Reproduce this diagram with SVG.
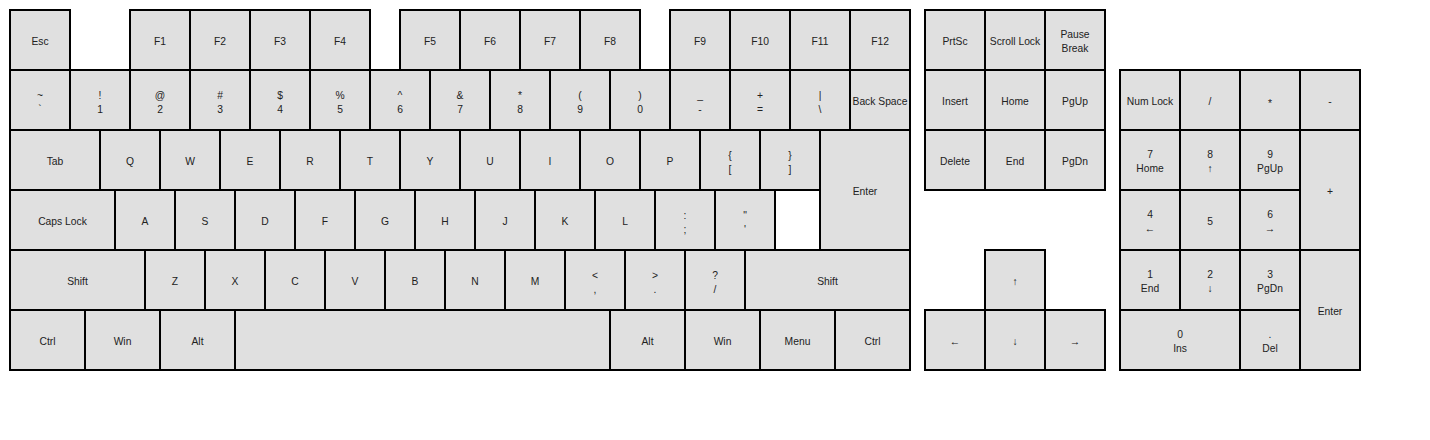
<svg xmlns="http://www.w3.org/2000/svg" width="1430" height="440" viewBox="0 0 1430 440">
<style>
.k{fill:#e0e0e0;stroke:#000;stroke-width:2}
.w{fill:#fff;stroke:#000;stroke-width:2}
text{font-family:"Liberation Sans",Arial,sans-serif;font-size:10.3px;fill:#222;text-anchor:middle}
</style>
<rect width="1430" height="440" fill="#fff"/>
<g id="row1">
<g id="k-esc"><rect class="k" x="10" y="10" width="60" height="60"/><text x="40" y="45">Esc</text></g>
<g id="k-f1"><rect class="k" x="130" y="10" width="60" height="60"/><text x="160" y="45">F1</text></g>
<g id="k-f2"><rect class="k" x="190" y="10" width="60" height="60"/><text x="220" y="45">F2</text></g>
<g id="k-f3"><rect class="k" x="250" y="10" width="60" height="60"/><text x="280" y="45">F3</text></g>
<g id="k-f4"><rect class="k" x="310" y="10" width="60" height="60"/><text x="340" y="45">F4</text></g>
<g id="k-f5"><rect class="k" x="400" y="10" width="60" height="60"/><text x="430" y="45">F5</text></g>
<g id="k-f6"><rect class="k" x="460" y="10" width="60" height="60"/><text x="490" y="45">F6</text></g>
<g id="k-f7"><rect class="k" x="520" y="10" width="60" height="60"/><text x="550" y="45">F7</text></g>
<g id="k-f8"><rect class="k" x="580" y="10" width="60" height="60"/><text x="610" y="45">F8</text></g>
<g id="k-f9"><rect class="k" x="670" y="10" width="60" height="60"/><text x="700" y="45">F9</text></g>
<g id="k-f10"><rect class="k" x="730" y="10" width="60" height="60"/><text x="760" y="45">F10</text></g>
<g id="k-f11"><rect class="k" x="790" y="10" width="60" height="60"/><text x="820" y="45">F11</text></g>
<g id="k-f12"><rect class="k" x="850" y="10" width="60" height="60"/><text x="880" y="45">F12</text></g>
<g id="k-prtsc"><rect class="k" x="925" y="10" width="60" height="60"/><text x="955" y="45">PrtSc</text></g>
<g id="k-scroll"><rect class="k" x="985" y="10" width="60" height="60"/><text x="1015" y="45">Scroll Lock</text></g>
<g id="k-pause"><rect class="k" x="1045" y="10" width="60" height="60"/><text x="1075" y="38">Pause</text><text x="1075" y="52">Break</text></g>
</g>
<g id="row2">
<g id="k-tilde"><rect class="k" x="10" y="70" width="60" height="60"/><text x="40" y="99">~</text><text x="40" y="113">`</text></g>
<g id="k-1"><rect class="k" x="70" y="70" width="60" height="60"/><text x="100" y="99">!</text><text x="100" y="113">1</text></g>
<g id="k-2"><rect class="k" x="130" y="70" width="60" height="60"/><text x="160" y="99">@</text><text x="160" y="113">2</text></g>
<g id="k-3"><rect class="k" x="190" y="70" width="60" height="60"/><text x="220" y="99">#</text><text x="220" y="113">3</text></g>
<g id="k-4"><rect class="k" x="250" y="70" width="60" height="60"/><text x="280" y="99">$</text><text x="280" y="113">4</text></g>
<g id="k-5"><rect class="k" x="310" y="70" width="60" height="60"/><text x="340" y="99">%</text><text x="340" y="113">5</text></g>
<g id="k-6"><rect class="k" x="370" y="70" width="60" height="60"/><text x="400" y="99">^</text><text x="400" y="113">6</text></g>
<g id="k-7"><rect class="k" x="430" y="70" width="60" height="60"/><text x="460" y="99">&amp;</text><text x="460" y="113">7</text></g>
<g id="k-8"><rect class="k" x="490" y="70" width="60" height="60"/><text x="520" y="99">*</text><text x="520" y="113">8</text></g>
<g id="k-9"><rect class="k" x="550" y="70" width="60" height="60"/><text x="580" y="99">(</text><text x="580" y="113">9</text></g>
<g id="k-0"><rect class="k" x="610" y="70" width="60" height="60"/><text x="640" y="99">)</text><text x="640" y="113">0</text></g>
<g id="k-minus"><rect class="k" x="670" y="70" width="60" height="60"/><text x="700" y="99">_</text><text x="700" y="113">-</text></g>
<g id="k-equal"><rect class="k" x="730" y="70" width="60" height="60"/><text x="760" y="99">+</text><text x="760" y="113">=</text></g>
<g id="k-bslash"><rect class="k" x="790" y="70" width="60" height="60"/><text x="820" y="99">|</text><text x="820" y="113">\</text></g>
<g id="k-bksp"><rect class="k" x="850" y="70" width="60" height="60"/><text x="880" y="105">Back Space</text></g>
<g id="k-insert"><rect class="k" x="925" y="70" width="60" height="60"/><text x="955" y="105">Insert</text></g>
<g id="k-home"><rect class="k" x="985" y="70" width="60" height="60"/><text x="1015" y="105">Home</text></g>
<g id="k-pgup"><rect class="k" x="1045" y="70" width="60" height="60"/><text x="1075" y="105">PgUp</text></g>
<g id="k-numlock"><rect class="k" x="1120" y="70" width="60" height="60"/><text x="1150" y="105">Num Lock</text></g>
<g id="k-ndiv"><rect class="k" x="1180" y="70" width="60" height="60"/><text x="1210" y="105">/</text></g>
<g id="k-nmul"><rect class="k" x="1240" y="70" width="60" height="60"/><text x="1270" y="107">*</text></g>
<g id="k-nsub"><rect class="k" x="1300" y="70" width="60" height="60"/><text x="1330" y="105">-</text></g>
</g>
<g id="row3">
<g id="k-tab"><rect class="k" x="10" y="130" width="90" height="60"/><text x="55" y="165">Tab</text></g>
<g id="k-q"><rect class="k" x="100" y="130" width="60" height="60"/><text x="130" y="165">Q</text></g>
<g id="k-w"><rect class="k" x="160" y="130" width="60" height="60"/><text x="190" y="165">W</text></g>
<g id="k-e"><rect class="k" x="220" y="130" width="60" height="60"/><text x="250" y="165">E</text></g>
<g id="k-r"><rect class="k" x="280" y="130" width="60" height="60"/><text x="310" y="165">R</text></g>
<g id="k-t"><rect class="k" x="340" y="130" width="60" height="60"/><text x="370" y="165">T</text></g>
<g id="k-y"><rect class="k" x="400" y="130" width="60" height="60"/><text x="430" y="165">Y</text></g>
<g id="k-u"><rect class="k" x="460" y="130" width="60" height="60"/><text x="490" y="165">U</text></g>
<g id="k-i"><rect class="k" x="520" y="130" width="60" height="60"/><text x="550" y="165">I</text></g>
<g id="k-o"><rect class="k" x="580" y="130" width="60" height="60"/><text x="610" y="165">O</text></g>
<g id="k-p"><rect class="k" x="640" y="130" width="60" height="60"/><text x="670" y="165">P</text></g>
<g id="k-lbr"><rect class="k" x="700" y="130" width="60" height="60"/><text x="730" y="159">{</text><text x="730" y="173">[</text></g>
<g id="k-rbr"><rect class="k" x="760" y="130" width="60" height="60"/><text x="790" y="159">}</text><text x="790" y="173">]</text></g>
<g id="k-enter"><rect class="k" x="820" y="130" width="90" height="120"/><text x="865" y="195">Enter</text></g>
<g id="k-delete"><rect class="k" x="925" y="130" width="60" height="60"/><text x="955" y="165">Delete</text></g>
<g id="k-end"><rect class="k" x="985" y="130" width="60" height="60"/><text x="1015" y="165">End</text></g>
<g id="k-pgdn"><rect class="k" x="1045" y="130" width="60" height="60"/><text x="1075" y="165">PgDn</text></g>
<g id="k-n7"><rect class="k" x="1120" y="130" width="60" height="60"/><text x="1150" y="158">7</text><text x="1150" y="172">Home</text></g>
<g id="k-n8"><rect class="k" x="1180" y="130" width="60" height="60"/><text x="1210" y="158">8</text><text x="1210" y="172">↑</text></g>
<g id="k-n9"><rect class="k" x="1240" y="130" width="60" height="60"/><text x="1270" y="158">9</text><text x="1270" y="172">PgUp</text></g>
<g id="k-nadd"><rect class="k" x="1300" y="130" width="60" height="120"/><text x="1330" y="195">+</text></g>
</g>
<g id="row4">
<g id="k-caps"><rect class="k" x="10" y="190" width="105" height="60"/><text x="62.5" y="225">Caps Lock</text></g>
<g id="k-a"><rect class="k" x="115" y="190" width="60" height="60"/><text x="145" y="225">A</text></g>
<g id="k-s"><rect class="k" x="175" y="190" width="60" height="60"/><text x="205" y="225">S</text></g>
<g id="k-d"><rect class="k" x="235" y="190" width="60" height="60"/><text x="265" y="225">D</text></g>
<g id="k-f"><rect class="k" x="295" y="190" width="60" height="60"/><text x="325" y="225">F</text></g>
<g id="k-g"><rect class="k" x="355" y="190" width="60" height="60"/><text x="385" y="225">G</text></g>
<g id="k-h"><rect class="k" x="415" y="190" width="60" height="60"/><text x="445" y="225">H</text></g>
<g id="k-j"><rect class="k" x="475" y="190" width="60" height="60"/><text x="505" y="225">J</text></g>
<g id="k-k"><rect class="k" x="535" y="190" width="60" height="60"/><text x="565" y="225">K</text></g>
<g id="k-l"><rect class="k" x="595" y="190" width="60" height="60"/><text x="625" y="225">L</text></g>
<g id="k-semi"><rect class="k" x="655" y="190" width="60" height="60"/><text x="685" y="219">:</text><text x="685" y="233">;</text></g>
<g id="k-quote"><rect class="k" x="715" y="190" width="60" height="60"/><text x="745" y="219">"</text><text x="745" y="233">'</text></g>
<g id="k-blank"><rect class="w" x="775" y="190" width="45" height="60"/></g>
<g id="k-n4"><rect class="k" x="1120" y="190" width="60" height="60"/><text x="1150" y="218">4</text><text x="1150" y="232">←</text></g>
<g id="k-n5"><rect class="k" x="1180" y="190" width="60" height="60"/><text x="1210" y="225">5</text></g>
<g id="k-n6"><rect class="k" x="1240" y="190" width="60" height="60"/><text x="1270" y="218">6</text><text x="1270" y="232">→</text></g>
</g>
<g id="row5">
<g id="k-lshift"><rect class="k" x="10" y="250" width="135" height="60"/><text x="77.5" y="285">Shift</text></g>
<g id="k-z"><rect class="k" x="145" y="250" width="60" height="60"/><text x="175" y="285">Z</text></g>
<g id="k-x"><rect class="k" x="205" y="250" width="60" height="60"/><text x="235" y="285">X</text></g>
<g id="k-c"><rect class="k" x="265" y="250" width="60" height="60"/><text x="295" y="285">C</text></g>
<g id="k-v"><rect class="k" x="325" y="250" width="60" height="60"/><text x="355" y="285">V</text></g>
<g id="k-b"><rect class="k" x="385" y="250" width="60" height="60"/><text x="415" y="285">B</text></g>
<g id="k-n"><rect class="k" x="445" y="250" width="60" height="60"/><text x="475" y="285">N</text></g>
<g id="k-m"><rect class="k" x="505" y="250" width="60" height="60"/><text x="535" y="285">M</text></g>
<g id="k-comma"><rect class="k" x="565" y="250" width="60" height="60"/><text x="595" y="279">&lt;</text><text x="595" y="293">,</text></g>
<g id="k-period"><rect class="k" x="625" y="250" width="60" height="60"/><text x="655" y="279">&gt;</text><text x="655" y="293">.</text></g>
<g id="k-slash"><rect class="k" x="685" y="250" width="60" height="60"/><text x="715" y="279">?</text><text x="715" y="293">/</text></g>
<g id="k-rshift"><rect class="k" x="745" y="250" width="165" height="60"/><text x="827.5" y="285">Shift</text></g>
<g id="k-up"><rect class="k" x="985" y="250" width="60" height="60"/><text x="1015" y="285">↑</text></g>
<g id="k-n1"><rect class="k" x="1120" y="250" width="60" height="60"/><text x="1150" y="278">1</text><text x="1150" y="292">End</text></g>
<g id="k-n2"><rect class="k" x="1180" y="250" width="60" height="60"/><text x="1210" y="278">2</text><text x="1210" y="292">↓</text></g>
<g id="k-n3"><rect class="k" x="1240" y="250" width="60" height="60"/><text x="1270" y="278">3</text><text x="1270" y="292">PgDn</text></g>
<g id="k-nenter"><rect class="k" x="1300" y="250" width="60" height="120"/><text x="1330" y="315">Enter</text></g>
</g>
<g id="row6">
<g id="k-lctrl"><rect class="k" x="10" y="310" width="75" height="60"/><text x="47.5" y="345">Ctrl</text></g>
<g id="k-lwin"><rect class="k" x="85" y="310" width="75" height="60"/><text x="122.5" y="345">Win</text></g>
<g id="k-lalt"><rect class="k" x="160" y="310" width="75" height="60"/><text x="197.5" y="345">Alt</text></g>
<g id="k-space"><rect class="k" x="235" y="310" width="375" height="60"/></g>
<g id="k-ralt"><rect class="k" x="610" y="310" width="75" height="60"/><text x="647.5" y="345">Alt</text></g>
<g id="k-rwin"><rect class="k" x="685" y="310" width="75" height="60"/><text x="722.5" y="345">Win</text></g>
<g id="k-menu"><rect class="k" x="760" y="310" width="75" height="60"/><text x="797.5" y="345">Menu</text></g>
<g id="k-rctrl"><rect class="k" x="835" y="310" width="75" height="60"/><text x="872.5" y="345">Ctrl</text></g>
<g id="k-left"><rect class="k" x="925" y="310" width="60" height="60"/><text x="955" y="345">←</text></g>
<g id="k-down"><rect class="k" x="985" y="310" width="60" height="60"/><text x="1015" y="345">↓</text></g>
<g id="k-right"><rect class="k" x="1045" y="310" width="60" height="60"/><text x="1075" y="345">→</text></g>
<g id="k-n0"><rect class="k" x="1120" y="310" width="120" height="60"/><text x="1180" y="338">0</text><text x="1180" y="352">Ins</text></g>
<g id="k-ndot"><rect class="k" x="1240" y="310" width="60" height="60"/><text x="1270" y="338">.</text><text x="1270" y="352">Del</text></g>
</g>
</svg>
